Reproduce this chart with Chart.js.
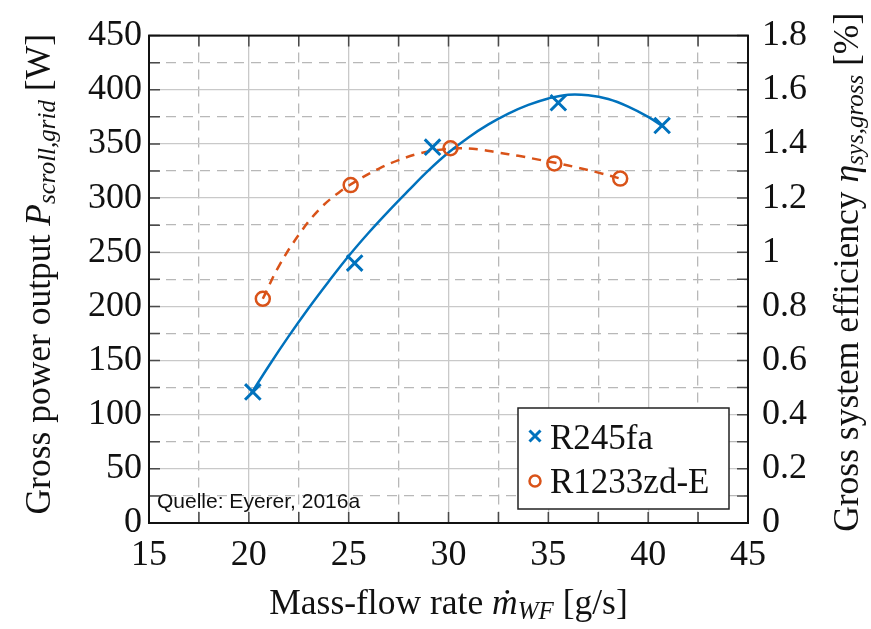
<!DOCTYPE html>
<html>
<head>
<meta charset="utf-8">
<script src="https://cdn.jsdelivr.net/npm/chart.js@4/dist/chart.umd.min.js"></script>
<style>
  html, body { margin: 0; padding: 0; background: #fff; }
  #wrap { width: 871px; height: 629px; position: relative; }
</style>
</head>
<body>
<div id="wrap"><canvas id="c" width="871" height="629"></canvas></div>
<script>
// ---- data ----
const xTickLabels = ['15', '20', '25', '30', '35', '40', '45'];
const yLeftTickLabels = ['0', '50', '100', '150', '200', '250', '300', '350', '400', '450'];
const yRightTickLabels = ['0', '0.2', '0.4', '0.6', '0.8', '1', '1.2', '1.4', '1.6', '1.8'];

const seriesNames = ['R245fa', 'R1233zd-E'];

// measured points (mass flow g/s, power W)
const r245faFlow  = [20.2, 25.3, 29.2, 35.5, 40.7];
const r245faPower = [121, 240, 347, 388, 367];
const r1233Flow   = [20.7, 25.1, 30.1, 35.3, 38.6];
const r1233Power  = [207, 312, 346, 332, 318];

// fitted curves
const r245faFitFlow  = [20.1, 21, 22, 23, 24, 25, 26, 27, 28, 29, 30, 31, 32, 33, 34, 35, 36, 37, 38, 39, 40, 40.75];
const r245faFitPower = [119, 145, 172.5, 198.5, 223, 246.5, 268, 288, 307, 325.5, 342, 356, 368, 378, 386, 392, 395.5, 395, 391.5, 384.5, 375, 366];
const r1233FitFlow   = [20.7, 21.5, 22.5, 23.5, 24.5, 25.5, 26.5, 27.5, 28.5, 29.5, 30.5, 31.5, 32.5, 33.5, 34.5, 35.5, 36.5, 37.5, 38.6];
const r1233FitPower  = [207, 237, 266, 289, 305, 317, 327, 335, 341, 344.5, 346, 345, 342, 339, 335.5, 332, 328, 323.5, 318];

const BLUE = '#0072BD';
const ORANGE = '#D95319';
const SERIF = '"Liberation Serif", "Times New Roman", serif';

function pts(xs, ys) { return xs.map((x, i) => ({ x: x, y: ys[i] })); }
function labelFor(list, v) {
  for (const s of list) { if (Math.abs(Number(s) - v) < 1e-6) return s; }
  return '';
}
function isMajor(list, v) { return labelFor(list, v) !== ''; }

function drawRich(ctx, segs, cx, cy, angle) {
  ctx.save();
  ctx.translate(cx, cy);
  ctx.rotate(angle);
  let total = 0;
  for (const s of segs) { ctx.font = s.font; total += ctx.measureText(s.t).width; }
  let x = -total / 2;
  ctx.fillStyle = '#111';
  ctx.textBaseline = 'middle';
  ctx.textAlign = 'left';
  for (const s of segs) {
    ctx.font = s.font;
    ctx.fillText(s.t, x, s.dy || 0);
    x += ctx.measureText(s.t).width;
  }
  ctx.restore();
}

const decor = {
  id: 'decor',
  afterDatasetsDraw(chart) {
    const ctx = chart.ctx;
    const a = chart.chartArea;
    const sx = chart.scales.x, sy = chart.scales.y, sy2 = chart.scales.y2;
    const TL = 11;
    ctx.save();
    ctx.strokeStyle = '#4a4a4a';
    ctx.lineWidth = 1.5;
    ctx.beginPath();
    for (const t of sx.ticks) {
      const px = sx.getPixelForValue(t.value);
      ctx.moveTo(px, a.top); ctx.lineTo(px, a.top + TL);
      ctx.moveTo(px, a.bottom); ctx.lineTo(px, a.bottom - TL);
    }
    for (const t of sy.ticks) {
      const py = sy.getPixelForValue(t.value);
      ctx.moveTo(a.left, py); ctx.lineTo(a.left + TL, py);
    }
    for (const t of sy2.ticks) {
      const py = sy2.getPixelForValue(t.value);
      ctx.moveTo(a.right, py); ctx.lineTo(a.right - TL, py);
    }
    ctx.stroke();
    // frame
    ctx.strokeStyle = '#111';
    ctx.lineWidth = 2;
    ctx.strokeRect(a.left, a.top, a.right - a.left, a.bottom - a.top);
    ctx.restore();
  },
  afterDraw(chart) {
    const ctx = chart.ctx;
    const a = chart.chartArea;
    // axis titles
    const F = 35.5, FS = 25;
    drawRich(ctx, [
      { t: 'Gross power output ', font: F + 'px ' + SERIF },
      { t: 'P', font: 'italic ' + F + 'px ' + SERIF },
      { t: 'scroll,grid', font: 'italic ' + FS + 'px ' + SERIF, dy: 7 },
      { t: ' [W]', font: F + 'px ' + SERIF }
    ], 41, (a.top + a.bottom) / 2 - 5, -Math.PI / 2);
    drawRich(ctx, [
      { t: 'Gross system efficiency ', font: F + 'px ' + SERIF },
      { t: '\u03B7', font: 'italic ' + F + 'px ' + SERIF },
      { t: 'sys,gross', font: 'italic ' + FS + 'px ' + SERIF, dy: 7 },
      { t: ' [%]', font: F + 'px ' + SERIF }
    ], 849, (a.top + a.bottom) / 2 - 7, -Math.PI / 2);
    drawRich(ctx, [
      { t: 'Mass-flow rate ', font: F + 'px ' + SERIF },
      { t: '\u1E41', font: 'italic ' + F + 'px ' + SERIF },
      { t: 'WF', font: 'italic ' + FS + 'px ' + SERIF, dy: 7 },
      { t: ' [g/s]', font: F + 'px ' + SERIF }
    ], (a.left + a.right) / 2, 605, 0);

    // legend box
    const lx = 518, ly = 408, lw = 211, lh = 101;
    ctx.save();
    ctx.fillStyle = '#fff';
    ctx.fillRect(lx, ly, lw, lh);
    ctx.strokeStyle = '#222';
    ctx.lineWidth = 1.5;
    ctx.strokeRect(lx, ly, lw, lh);
    // entry 1
    ctx.strokeStyle = BLUE; ctx.lineWidth = 3;
    ctx.beginPath();
    ctx.moveTo(529.5, 430.5); ctx.lineTo(540.5, 441.5);
    ctx.moveTo(540.5, 430.5); ctx.lineTo(529.5, 441.5);
    ctx.stroke();
    // entry 2
    ctx.strokeStyle = ORANGE; ctx.lineWidth = 2.5;
    ctx.beginPath(); ctx.arc(535, 481, 5.5, 0, Math.PI * 2); ctx.stroke();
    ctx.fillStyle = '#111';
    ctx.font = '35px ' + SERIF;
    ctx.textBaseline = 'alphabetic';
    ctx.textAlign = 'left';
    ctx.fillText(seriesNames[0], 550, 449);
    ctx.fillText(seriesNames[1], 550, 493);
    // source note
    ctx.font = '21px "Liberation Sans", Arial, sans-serif';
    ctx.fillText('Quelle: Eyerer, 2016a', 157, 508);
    ctx.restore();
  }
};

const gridColor = (list) => (c) => (c.tick && isMajor(list, c.tick.value)) ? '#c9c9c9' : '#b8b8b8';
const gridDash = (list) => (c) => (c.tick && !isMajor(list, c.tick.value)) ? [10, 7] : [];

new Chart(document.getElementById('c'), {
  type: 'scatter',
  data: {
    datasets: [
      { label: seriesNames[0], data: pts(r245faFlow, r245faPower), showLine: false,
        pointStyle: 'crossRot', pointRadius: 11, pointBorderWidth: 3,
        borderColor: BLUE, backgroundColor: BLUE, yAxisID: 'y', order: 1 },
      { label: seriesNames[1], data: pts(r1233Flow, r1233Power), showLine: false,
        pointStyle: 'circle', pointRadius: 7, pointBorderWidth: 2.5,
        borderColor: ORANGE, backgroundColor: 'rgba(0,0,0,0)', yAxisID: 'y', order: 2 },
      { label: seriesNames[0] + ' fit', data: pts(r245faFitFlow, r245faFitPower), showLine: true,
        pointRadius: 0, borderColor: BLUE, borderWidth: 2.5, tension: 0.4,
        yAxisID: 'y', order: 3 },
      { label: seriesNames[1] + ' fit', data: pts(r1233FitFlow, r1233FitPower), showLine: true,
        pointRadius: 0, borderColor: ORANGE, borderWidth: 2.5, borderDash: [9, 7], tension: 0.4,
        yAxisID: 'y', order: 4 }
    ]
  },
  options: {
    responsive: false,
    animation: false,
    devicePixelRatio: 1,
    layout: { padding: { top: 19, left: 0, right: 0, bottom: 0 } },
    plugins: { legend: { display: false }, tooltip: { enabled: false } },
    scales: {
      x: {
        type: 'linear', min: 15, max: 45,
        afterFit: (s) => { s.height = 106; },
        ticks: { stepSize: 2.5, autoSkip: false, maxRotation: 0, padding: 11,
          color: '#111', font: { family: SERIF, size: 36 },
          callback: (v) => labelFor(xTickLabels, v) },
        grid: { color: gridColor(xTickLabels), lineWidth: 1.3, drawTicks: false },
        border: { display: false, dash: gridDash(xTickLabels) }
      },
      y: {
        type: 'linear', position: 'left', min: 0, max: 450,
        afterFit: (s) => { s.width = 149; },
        ticks: { stepSize: 25, autoSkip: false, padding: 7,
          color: '#111', font: { family: SERIF, size: 36 },
          callback: (v) => labelFor(yLeftTickLabels, v) },
        grid: { color: gridColor(yLeftTickLabels), lineWidth: 1.3, drawTicks: false },
        border: { display: false, dash: gridDash(yLeftTickLabels) }
      },
      y2: {
        type: 'linear', position: 'right', min: 0, max: 1.8,
        afterFit: (s) => { s.width = 123; },
        ticks: { stepSize: 0.1, autoSkip: false, padding: 14,
          color: '#111', font: { family: SERIF, size: 36 },
          callback: (v) => labelFor(yRightTickLabels, v) },
        grid: { drawOnChartArea: false, drawTicks: false },
        border: { display: false }
      }
    }
  },
  plugins: [decor]
});
</script>
</body>
</html>
